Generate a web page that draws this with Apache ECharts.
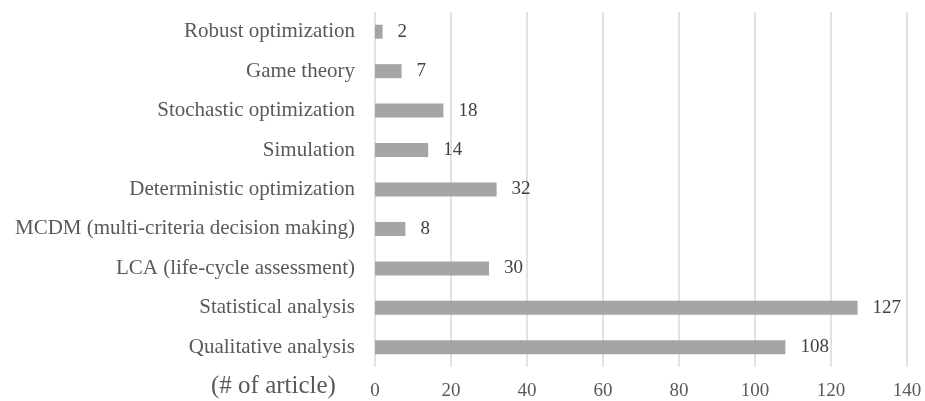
<!DOCTYPE html>
<html>
<head>
<meta charset="utf-8">
<script src="https://cdn.jsdelivr.net/npm/echarts@6/dist/echarts.min.js"></script>
<style>
  html, body { margin: 0; padding: 0; background: #fff; }
  #main { width: 925px; height: 401px; }
</style>
</head>
<body>
<div id="main"></div>
<script>
// categories bottom -> top
const categories = [
  'Qualitative analysis',
  'Statistical analysis',
  'LCA (life-cycle assessment)',
  'MCDM (multi-criteria decision making)',
  'Deterministic optimization',
  'Simulation',
  'Stochastic optimization',
  'Game theory',
  'Robust optimization'
];
const articles = [108, 127, 30, 8, 32, 14, 18, 7, 2];

const chart = echarts.init(document.getElementById('main'));
const font = '"Liberation Serif", "Times New Roman", serif';

const option = {
  animation: false,
  textStyle: { fontFamily: font },
  title: {
    text: '(# of article)',
    left: 206,
    top: 369,
    textStyle: { fontFamily: font, fontSize: 25, fontWeight: 'normal', color: '#595959' }
  },
  grid: { left: 375, right: 18, top: 12, bottom: 34 },
  xAxis: {
    type: 'value',
    min: 0,
    max: 140,
    interval: 20,
    axisLine: { show: false },
    axisTick: { show: false },
    axisLabel: { fontFamily: font, fontSize: 19, color: '#595959', margin: 15 },
    splitLine: { lineStyle: { color: '#d9d9d9', width: 1.5 } }
  },
  yAxis: {
    type: 'category',
    data: categories,
    axisLine: { show: false },
    axisTick: { show: false },
    axisLabel: { fontFamily: font, fontSize: 21, color: '#595959', margin: 20 }
  },
  series: [{
    type: 'bar',
    data: articles,
    barWidth: 14,
    itemStyle: { color: '#a5a5a5' },
    label: {
      show: true,
      position: 'right',
      distance: 15,
      fontFamily: font,
      fontSize: 19,
      color: '#404040'
    }
  }]
};
chart.setOption(option);
</script>
</body>
</html>
